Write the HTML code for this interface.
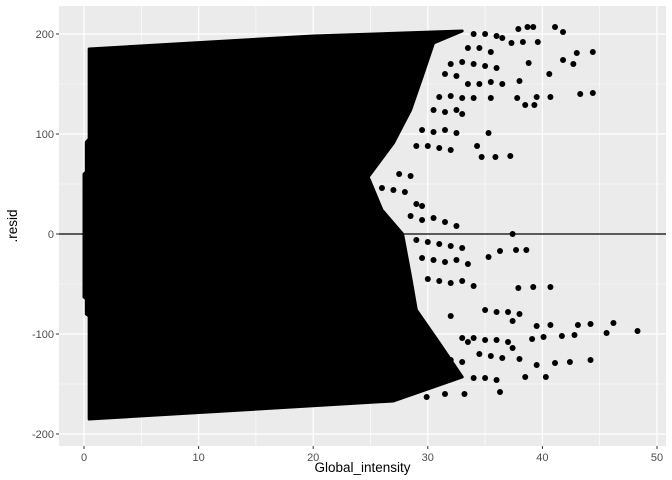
<!DOCTYPE html>
<html><head><meta charset="utf-8"><style>
body{margin:0;background:#fff;}
svg{display:block;font-family:"Liberation Sans",sans-serif;}
</style></head><body>
<svg id="chart" width="672" height="480"></svg>
<script>
const xTicks=[0,10,20,30,40,50];
const yTicks=[-200,-100,0,100,200];
const xMinor=[5,15,25,35,45];
const yMinor=[-150,-50,50,150];
// envelope of the dense point cloud (x = Global_intensity, y = .resid)
const envX=[0.45,20,33,30.5,29.5,28.5,27,24.8,26,27.8,28.5,29,31,33,29,27,0.45,0.45,0.2,0.2,0,0,0.2,0.2,0.45];
const envY=[185,198,203,191,157,124,91,57,24,0,-43,-76,-109,-143,-159,-167,-185,-82,-80,-65,-63,60,62,92,95];
// scattered outliers
const ptX=[38.7,39.2,41.1,41.8,37.9,37.3,38.3,39.6,43,44.4,41.8,42.7,40.6,38.8,38,40.7,43.3,44.4,39.5,37.8,38.5,39.3,37.2,35.9,34.7,35.3,34.3,37.4,37.7,38.6,36.3,35.3,37.9,39.2,40.7,37.4,39.5,40.7,43.1,44.2,46.2,45.6,48.3,42.8,41.7,40.1,39.1,37.4,44.2,42.4,41.1,39.5,38,40.3,38.5,36.3,33.2,29.9,31.5,
 34,35,36,36.5,33.5,34.5,35.5,32,33,34,35,36,31.5,32.5,33.5,34.5,35.5,36.5,31,32,33,34,35.5,30.5,31.5,32.5,33,29.5,30.5,31.5,32.5,29,30,31,32,27.5,28.5,26,27,28,29,29.5,28.5,29.5,30.5,31.5,32.5,29,30,31,32,33,29.5,30.5,31.5,32.5,33.5,30,31,32,33,34,35,36,37,38,32,33,34,35,36,37,33.5,34.5,35.5,36.5,31,32,33,34,35,36];
const ptY=[207,207,207,202,205,191,192,192,181,182,174,170,160,171,153,137,140,141,137,136,129,129,78,77,77,101,88,0,-16,-16,-17,-23,-54,-53,-53,-87,-92,-91,-91,-90,-89,-99,-97,-101,-102,-103,-105,-114,-126,-128,-129,-131,-125,-143,-143,-158,-160,-163,-160,
 200,200,198,196,186,186,182,170,172,170,168,166,160,158,150,150,152,150,137,138,136,136,136,124,122,124,120,104,102,104,101,88,88,86,84,60,58,46,44,42,30,28,18,14,16,12,8,-6,-8,-10,-12,-14,-24,-26,-28,-26,-30,-45,-47,-49,-47,-52,-76,-78,-78,-80,-82,-104,-104,-106,-106,-108,-108,-120,-122,-124,-122,-126,-128,-144,-144,-146,-148,-150,-152];
const L=59,R=666,T=6,B=446;
const xs=v=>84+v*11.46;
const ys=v=>234-v*1.0;
const svg=document.getElementById('chart');
const NS='http://www.w3.org/2000/svg';
function mk(tag,attrs,parent){const e=document.createElementNS(NS,tag);for(const k in attrs)e.setAttribute(k,attrs[k]);(parent||svg).appendChild(e);return e;}
const bg=mk('rect',{x:L,y:T,width:R-L,height:B-T,fill:'#ebebeb'});


xMinor.forEach(v=>{const l=mk('line',{x1:xs(v),x2:xs(v),y1:T,y2:B,stroke:'#fff','stroke-width':0.6});});
yMinor.forEach(v=>{const l=mk('line',{x1:L,x2:R,y1:ys(v),y2:ys(v),stroke:'#fff','stroke-width':0.6});});
xTicks.forEach(v=>{const l=mk('line',{x1:xs(v),x2:xs(v),y1:T,y2:B,stroke:'#fff','stroke-width':1.2});
 const t=mk('line',{x1:xs(v),x2:xs(v),y1:B,y2:B+3,stroke:'#333','stroke-width':1});
 const tx=mk('text',{x:xs(v),y:B+15,'text-anchor':'middle','font-size':11,fill:'#4d4d4d'});tx.textContent=v;});
yTicks.forEach(v=>{const l=mk('line',{x1:L,x2:R,y1:ys(v),y2:ys(v),stroke:'#fff','stroke-width':1.2});
 const t=mk('line',{x1:L-3,x2:L,y1:ys(v),y2:ys(v),stroke:'#333','stroke-width':1});
 const tx=mk('text',{x:L-5,y:ys(v)+4,'text-anchor':'end','font-size':11,fill:'#4d4d4d'});tx.textContent=v;});
const poly=mk('polygon',{points:envX.map((x,i)=>xs(x)+','+ys(envY[i])).join(' '),fill:'#000',stroke:'#000','stroke-width':3,'stroke-linejoin':'round'});


ptX.forEach((x,i)=>{const c=mk('circle',{cx:xs(x),cy:ys(ptY[i]),r:3,fill:'#000'});});
const h=mk('line',{x1:L,x2:R,y1:ys(0),y2:ys(0),stroke:'#000','stroke-width':1.2});


const xt=mk('text',{x:(L+R)/2,y:472,'text-anchor':'middle','font-size':13.5,fill:'#000'});xt.textContent='Global_intensity';


const yt=mk('text',{x:0,y:0,'text-anchor':'middle','font-size':13.5,fill:'#000',transform:'translate(17,'+((T+B)/2)+') rotate(-90)'});yt.textContent='.resid';


</script>
</body></html>
